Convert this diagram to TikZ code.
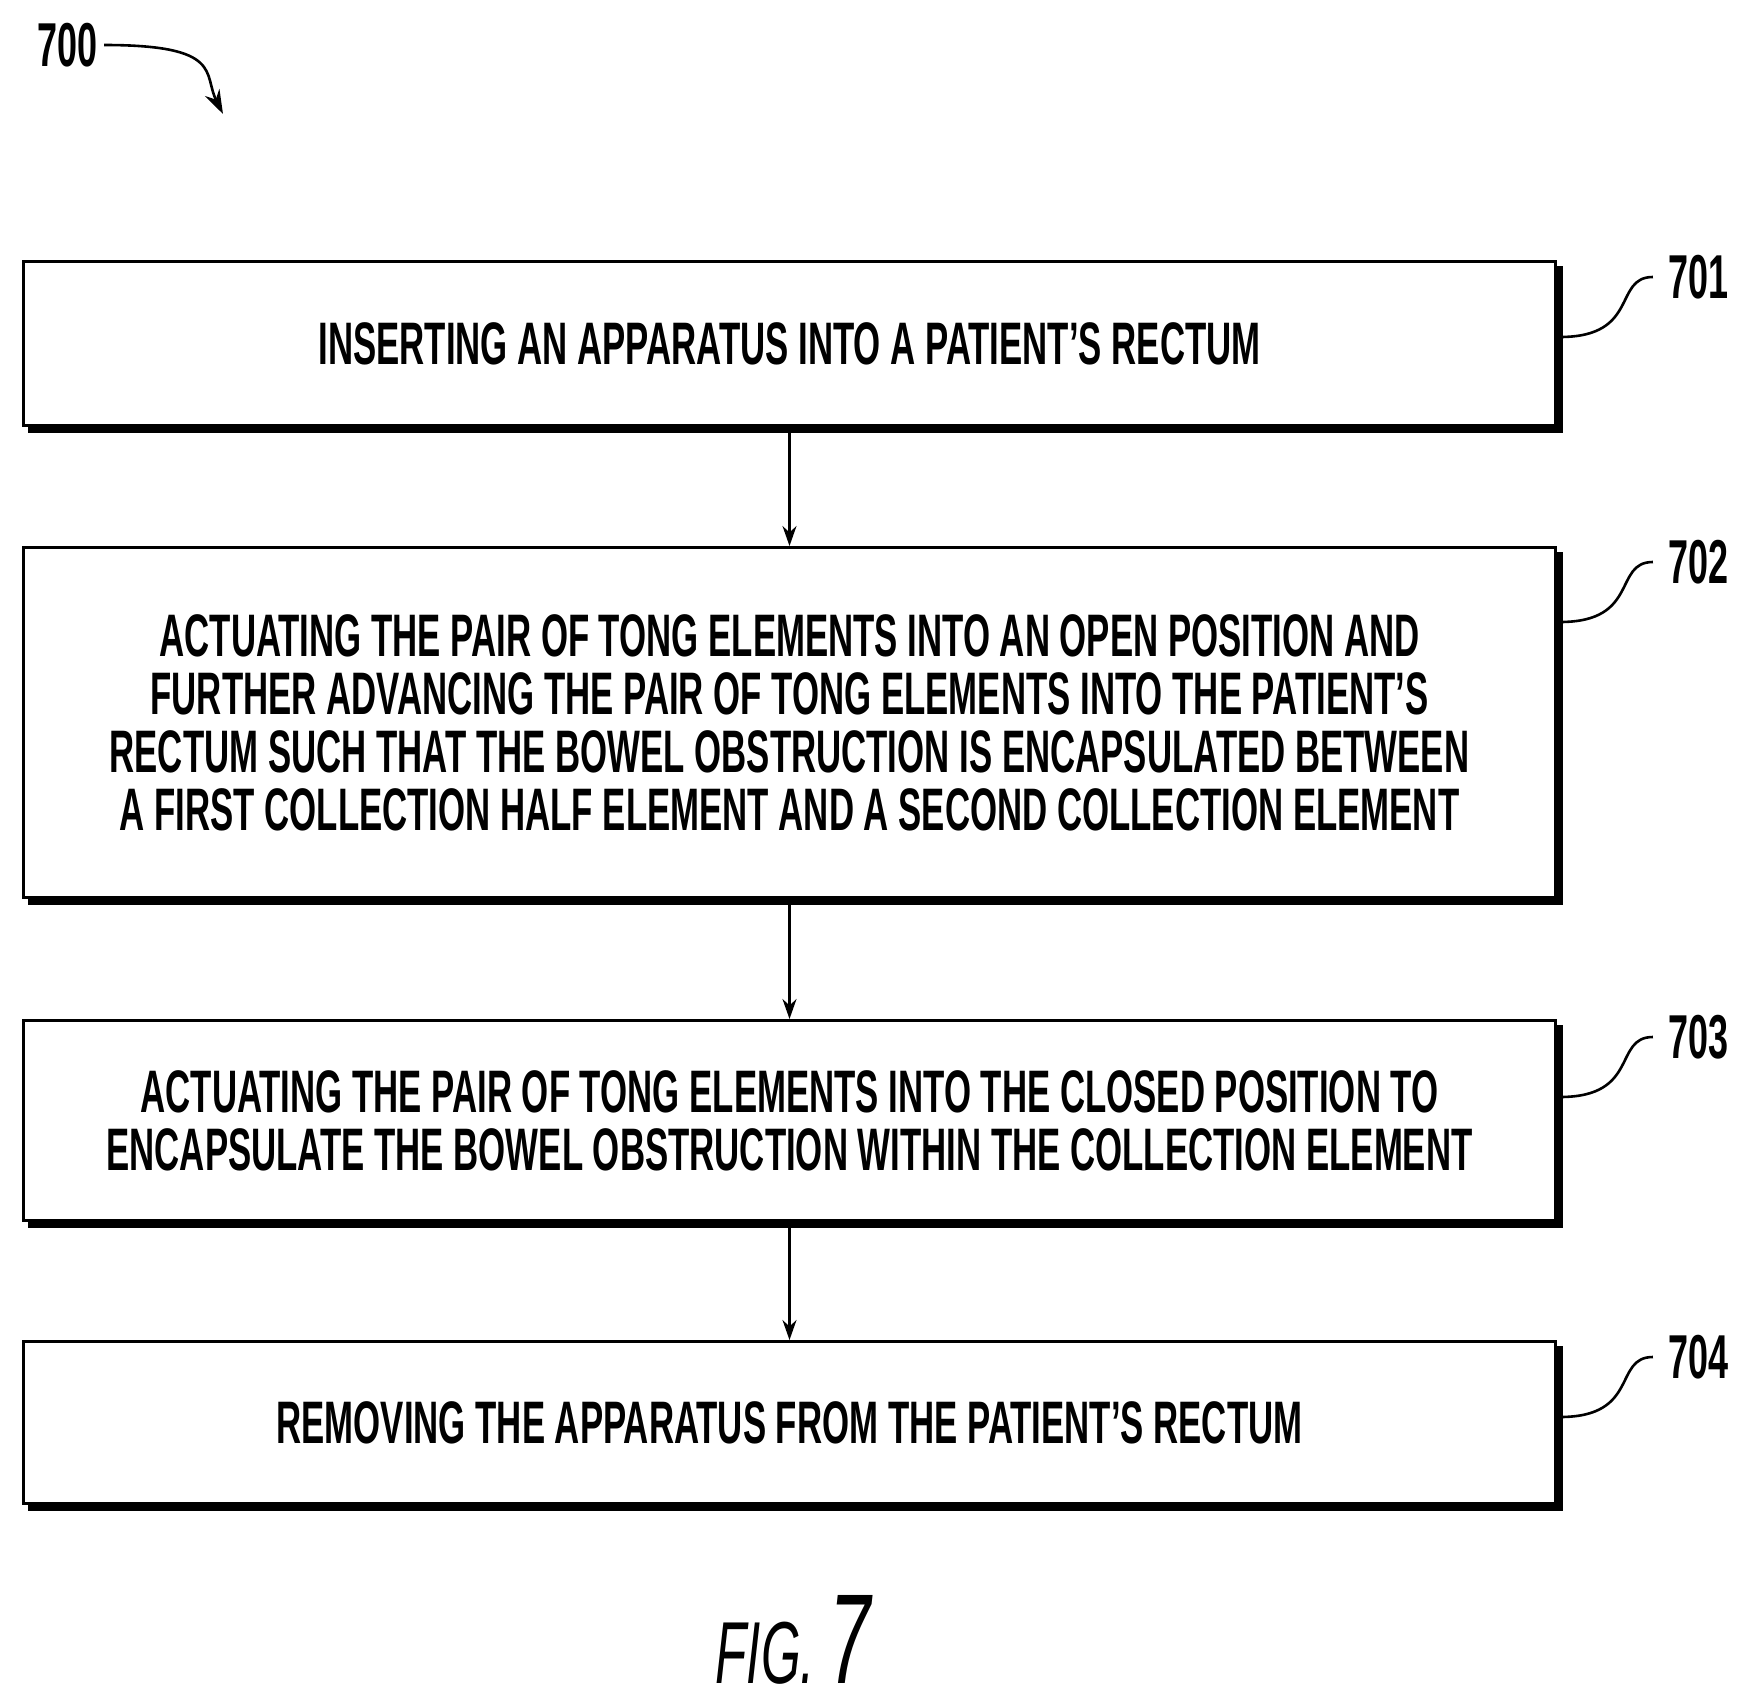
\documentclass[tikz,border=0pt]{standalone}
\usepackage{fontspec}
\setmainfont{Liberation Sans}[FakeStretch=0.58]
\usetikzlibrary{positioning,arrows.meta}
\tikzset{
  stepbox/.style={draw, line width=1.5pt, align=center, font=\bfseries\fontsize{30}{29}\selectfont,
    minimum width=766pt, inner sep=0pt, anchor=north west},
  shade/.style={line width=3pt},
  flow/.style={-{Stealth[length=10pt,width=7pt]}, line width=1.2pt},
  lead/.style={line width=1.3pt},
  refnum/.style={font=\bfseries\fontsize{31}{31}\selectfont}
}
\begin{document}
\begin{tikzpicture}[x=0.5pt,y=-0.5pt]
  \useasboundingbox (0,0) rectangle (1746,1707);
  % steps
  \node[stepbox, minimum height=82pt] (s1) at (22,260) {INSERTING AN APPARATUS INTO A PATIENT'S RECTUM};
  \node[stepbox, minimum height=175pt] (s2) at (22,546) {ACTUATING THE PAIR OF TONG ELEMENTS INTO AN OPEN POSITION AND\\
    FURTHER ADVANCING THE PAIR OF TONG ELEMENTS INTO THE PATIENT'S\\
    RECTUM SUCH THAT THE BOWEL OBSTRUCTION IS ENCAPSULATED BETWEEN\\
    A FIRST COLLECTION HALF ELEMENT AND A SECOND COLLECTION ELEMENT};
  \node[stepbox, minimum height=100pt] (s3) at (22,1019) {ACTUATING THE PAIR OF TONG ELEMENTS INTO THE CLOSED POSITION TO\\
    ENCAPSULATE THE BOWEL OBSTRUCTION WITHIN THE COLLECTION ELEMENT};
  \node[stepbox, minimum height=81pt] (s4) at (22,1340) {REMOVING THE APPARATUS FROM THE PATIENT'S RECTUM};
  % shadows
  \foreach \s in {s1,s2,s3,s4}
    \draw[shade] ([xshift=3pt,yshift=-1.5pt]\s.south west) -- ([xshift=1.5pt,yshift=-1.5pt]\s.south east)
      -- ([xshift=1.5pt,yshift=-3pt]\s.north east);
  % arrows
  \draw[flow] (s1) -- (s2);
  \draw[flow] (s2) -- (s3);
  \draw[flow] (s3) -- (s4);
  % reference numbers
  \node[refnum] (n1) at (1698,277) {701};
  \node[refnum] (n2) at (1698,562) {702};
  \node[refnum] (n3) at (1698,1037) {703};
  \node[refnum] (n4) at (1698,1357) {704};
  \foreach \s/\n in {s1/n1,s2/n2,s3/n3,s4/n4}
    \draw[lead] ([xshift=1.5pt,yshift=-30pt]\n.west -| \s.east) .. controls +(40pt,0) and +(-20pt,0) .. ([xshift=-4pt]\n.west);
  \node[refnum, anchor=west] (n0) at (30,45) {700};
  \coordinate (t0) at (223,114);
  \draw[lead, -{Stealth[length=12pt,width=8pt]}] (n0.east) .. controls +(60pt,0) and +(-10pt,20pt) .. (t0);
  \node[font=\itshape\fontsize{44}{44}\selectfont] (fig) at (793,1640) {FIG. \fontsize{64}{64}\selectfont 7};
\end{tikzpicture}
\end{document}
